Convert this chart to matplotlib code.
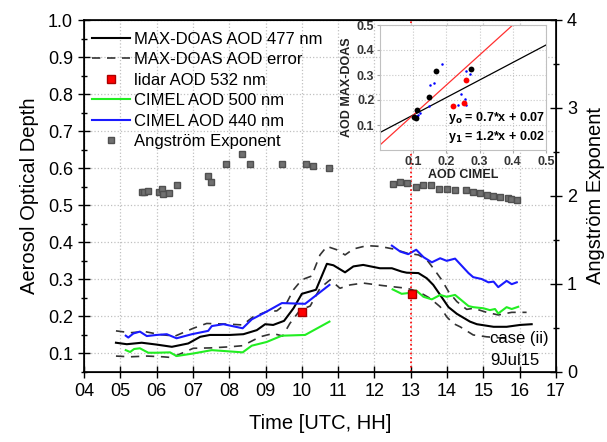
import numpy as np
import matplotlib.pyplot as plt
from matplotlib.lines import Line2D
from matplotlib.ticker import MultipleLocator, FormatStrFormatter

plt.rcParams['font.family'] = ['Liberation Sans', 'DejaVu Sans']

# MAX-DOAS AOD 477 nm
doas_t = [4.88, 5.18, 5.59, 6.00, 6.42, 6.87, 7.20, 7.47, 8.02, 8.39, 8.76, 8.99, 9.21, 9.51,
          9.77, 10.00, 10.39, 10.69, 10.87, 11.19, 11.42, 11.69, 12.15, 12.48, 12.75, 12.89,
          13.21, 13.44, 13.62, 13.81, 14.04, 14.27, 14.63, 14.82, 15.28, 15.64, 16.01, 16.33]
doas_aod = [0.129, 0.125, 0.129, 0.124, 0.118, 0.127, 0.145, 0.150, 0.150, 0.152, 0.163, 0.179,
            0.177, 0.188, 0.222, 0.261, 0.272, 0.342, 0.338, 0.319, 0.335, 0.339, 0.330, 0.330,
            0.321, 0.318, 0.317, 0.303, 0.285, 0.258, 0.225, 0.207, 0.186, 0.179, 0.172, 0.172,
            0.177, 0.179]

# MAX-DOAS error envelope
err_hi_t = [4.88, 5.27, 5.68, 6.09, 6.51, 7.01, 7.38, 8.02, 8.37, 8.66, 9.03, 9.31, 9.58, 9.77,
            10.00, 10.27, 10.50, 10.69, 10.96, 11.19, 11.42, 11.79, 12.15, 12.52, 12.89, 13.21,
            13.44, 13.62, 13.85, 14.04, 14.27, 14.54, 14.73, 15.09, 15.41, 15.78, 16.19]
err_hi = [0.161, 0.156, 0.159, 0.151, 0.147, 0.168, 0.181, 0.179, 0.177, 0.199, 0.213, 0.215,
          0.236, 0.272, 0.299, 0.309, 0.366, 0.389, 0.380, 0.366, 0.382, 0.391, 0.389, 0.382,
          0.371, 0.366, 0.353, 0.330, 0.299, 0.267, 0.240, 0.219, 0.222, 0.211, 0.204, 0.211,
          0.211]
err_lo_t = [4.88, 5.27, 5.73, 6.18, 6.42, 7.01, 7.47, 8.02, 8.37, 8.85, 9.21, 9.47, 9.67, 9.95,
            10.23, 10.50, 10.78, 11.05, 11.33, 11.69, 12.25, 12.52, 12.89, 13.21, 13.53, 13.81,
            13.99, 14.17, 14.36, 14.72, 15.09, 15.60]
err_lo = [0.093, 0.091, 0.093, 0.091, 0.089, 0.114, 0.115, 0.118, 0.121, 0.145, 0.154, 0.147,
          0.181, 0.217, 0.228, 0.276, 0.299, 0.276, 0.285, 0.290, 0.283, 0.280, 0.276, 0.267,
          0.249, 0.226, 0.199, 0.181, 0.172, 0.150, 0.145, 0.141]

# lidar AOD 532 nm
lidar_t = [10.01, 13.03]
lidar_aod = [0.213, 0.261]

# CIMEL AOD 500 nm (morning / afternoon)
c500_t1 = [5.15, 5.27, 5.38, 5.54, 5.77, 6.00, 6.37, 6.55, 7.01, 7.52, 8.37, 8.62, 9.03, 9.45,
           10.09, 10.76]
c500_a1 = [0.109, 0.104, 0.112, 0.114, 0.102, 0.102, 0.103, 0.093, 0.100, 0.109, 0.103, 0.121,
           0.131, 0.148, 0.150, 0.186]
c500_t2 = [12.50, 12.75, 12.93, 13.15, 13.35, 13.58, 13.81, 13.99, 14.22, 14.59, 14.72, 15.00,
           15.18, 15.32, 15.41, 15.64, 15.78, 15.96]
c500_a2 = [0.273, 0.261, 0.263, 0.270, 0.253, 0.246, 0.258, 0.253, 0.258, 0.228, 0.225, 0.222,
           0.217, 0.220, 0.208, 0.225, 0.220, 0.226]

# CIMEL AOD 440 nm
c440_t1 = [5.15, 5.22, 5.36, 5.54, 5.73, 6.00, 6.28, 6.55, 6.97, 7.42, 7.52, 7.84, 8.37, 8.62,
           9.03, 9.45, 10.09, 10.76]
c440_a1 = [0.148, 0.143, 0.154, 0.159, 0.147, 0.150, 0.152, 0.141, 0.152, 0.161, 0.174, 0.179,
           0.168, 0.192, 0.213, 0.236, 0.234, 0.285]
c440_t2 = [12.48, 12.71, 12.93, 13.15, 13.35, 13.58, 13.81, 13.99, 14.22, 14.59, 14.72, 14.95,
           15.14, 15.28, 15.41, 15.64, 15.78, 15.92]
c440_a2 = [0.391, 0.375, 0.368, 0.380, 0.360, 0.346, 0.357, 0.350, 0.356, 0.317, 0.306, 0.301,
           0.292, 0.294, 0.279, 0.296, 0.287, 0.292]

# Angstrom exponent
ang_t = [5.59, 5.65, 5.75, 6.07, 6.14, 6.17, 6.34, 6.55, 7.42, 7.49, 7.92, 8.35, 8.58, 9.44,
         10.11, 10.32, 10.74, 12.50, 12.69, 12.89, 13.14, 13.35, 13.56, 13.79, 13.99, 14.22,
         14.52, 14.72, 14.91, 15.09, 15.27, 15.45, 15.67, 15.75, 15.92]
ang_val = [2.04, 2.05, 2.06, 2.04, 2.08, 2.02, 2.03, 2.12, 2.23, 2.16, 2.36, 2.48, 2.36, 2.36,
           2.36, 2.34, 2.32, 2.14, 2.16, 2.15, 2.10, 2.12, 2.13, 2.08, 2.08, 2.07, 2.07, 2.04,
           2.03, 2.01, 2.00, 1.99, 1.98, 1.97, 1.96]

# inset scatter: AOD CIMEL vs AOD MAX-DOAS
sc_black_x = [0.168, 0.274, 0.148, 0.112, 0.108, 0.103]
sc_black_y = [0.317, 0.323, 0.212, 0.160, 0.127, 0.133]
sc_red_x = [0.260, 0.221, 0.254]
sc_red_y = [0.279, 0.176, 0.190]
sc_blue_x = [0.186, 0.164, 0.151, 0.259, 0.271, 0.244, 0.257, 0.259, 0.236, 0.148, 0.120,
             0.115, 0.100, 0.105, 0.110]
sc_blue_y = [0.343, 0.269, 0.260, 0.316, 0.303, 0.224, 0.204, 0.179, 0.179, 0.176, 0.147,
             0.140, 0.132, 0.128, 0.138]
fit0 = (0.7, 0.07)
fit1 = (1.2, 0.02)

hours = list(range(4, 18))
hour_labels = ['%02d' % h for h in hours]

fig = plt.figure(figsize=(6.07, 4.42), dpi=100)
ax = fig.add_axes([84 / 607, 1 - 372 / 442, 472 / 607, 352 / 442])

ax.plot(doas_t, doas_aod, '-', color='black', lw=1.5)
ax.plot(err_hi_t, err_hi, '--', color='#333333', lw=1.2, dashes=(5, 4))
ax.plot(err_lo_t, err_lo, '--', color='#333333', lw=1.2, dashes=(5, 4))
ax.plot(c500_t1, c500_a1, '-', color='#22ee22', lw=1.5)
ax.plot(c500_t2, c500_a2, '-', color='#22ee22', lw=1.5)
ax.plot(c440_t1, c440_a1, '-', color='#1a1aff', lw=1.5)
ax.plot(c440_t2, c440_a2, '-', color='#1a1aff', lw=1.5)
ax.plot(lidar_t, lidar_aod, 's', color='red', mec='#aa0000', ms=5.5, zorder=5)
ax.axvline(13, color='red', linestyle=':', lw=1.2)

ax.set_xlim(4, 17)
ax.set_ylim(0.05, 1.0)
ax.set_xticks(hours)
ax.set_xticklabels(hour_labels)
ax.yaxis.set_major_locator(MultipleLocator(0.1))
ax.yaxis.set_minor_locator(MultipleLocator(0.05))
ax.yaxis.set_major_formatter(FormatStrFormatter('%.1f'))
ax.grid(True, which='major', linestyle=':', color='#c0c0c0', lw=0.9)
ax.tick_params(which='major', direction='inout', length=9, width=1, labelsize=13)
ax.tick_params(which='minor', direction='inout', length=5, width=1)
ax.set_xlabel('Time [UTC, HH]', fontsize=14.5, labelpad=10)
ax.set_ylabel('Aerosol Optical Depth', fontsize=14.5, labelpad=6)
for s in ax.spines.values():
    s.set_linewidth(1.2)

ax2 = ax.twinx()
ax2.plot(ang_t, ang_val, 's', color='#707070', mec='#505050', ms=4.8)
ax2.set_ylim(0, 4)
ax2.yaxis.set_major_locator(MultipleLocator(1))
ax2.yaxis.set_minor_locator(MultipleLocator(0.5))
ax2.tick_params(which='major', direction='inout', length=9, width=1, labelsize=13)
ax2.tick_params(which='minor', direction='inout', length=5, width=1)
ax2.set_ylabel('Angström Exponent', fontsize=14.5, labelpad=6)
ax2.text(15.18, 0.141, 'case (ii)', transform=ax.transData, fontsize=12, va='center')
ax2.text(15.18, 0.082, '9Jul15', transform=ax.transData, fontsize=12, va='center')

handles = [
    Line2D([], [], color='black', lw=1.5),
    Line2D([], [], color='#333333', lw=1.2, linestyle='--', dashes=(5, 4)),
    Line2D([], [], color='red', mec='#aa0000', marker='s', linestyle='none', ms=5.5),
    Line2D([], [], color='#22ee22', lw=1.5),
    Line2D([], [], color='#1a1aff', lw=1.5),
    Line2D([], [], color='#707070', mec='#505050', marker='s', linestyle='none', ms=4.8),
]
labels = ['MAX-DOAS AOD 477 nm', 'MAX-DOAS AOD error', 'lidar AOD 532 nm',
          'CIMEL AOD 500 nm', 'CIMEL AOD 440 nm', 'Angström Exponent']
ax2.legend(handles, labels, loc='upper left', bbox_to_anchor=(-0.008, 1.0), frameon=False,
           fontsize=12, handlelength=2.3, handletextpad=0.25, labelspacing=0.33,
           borderaxespad=0.3)

# inset
ins = fig.add_axes([380 / 607, 1 - 150 / 442, 166 / 607, 125 / 442])
ins.set_zorder(5)
ins.set_facecolor('white')
xx = np.array([0.0, 0.5])
ins.plot(xx, fit0[0] * xx + fit0[1], color='black', lw=0.9)
ins.plot(xx, fit1[0] * xx + fit1[1], color='#ff3030', lw=0.9)
ins.plot(sc_blue_x, sc_blue_y, 'o', color='blue', ms=1.8, mew=0)
ins.plot(sc_black_x, sc_black_y, 'o', color='black', ms=4.2, mew=0)
ins.plot(sc_red_x, sc_red_y, 'o', color='red', ms=4.2, mew=0)
ins.set_xlim(0, 0.5)
ins.set_ylim(0, 0.5)
ins.set_xticks([0.1, 0.2, 0.3, 0.4, 0.5])
ins.set_yticks([0.1, 0.2, 0.3, 0.4, 0.5])
ins.grid(True, linestyle=':', color='#c8c8c8', lw=0.8)
ins.tick_params(length=2, color='#aaaaaa', labelsize=9, labelcolor='#333333', pad=2)
for t in ins.get_xticklabels() + ins.get_yticklabels():
    t.set_fontweight('bold')
for s in ins.spines.values():
    s.set_color('#c0c0c0')
ins.set_xlabel('AOD CIMEL', fontsize=9, fontweight='bold', color='#222222', labelpad=1)
ins.set_ylabel('AOD MAX-DOAS', fontsize=9, fontweight='bold', color='#222222', labelpad=3)
ins.text(0.205, 0.128, r'y$_\mathbf{o}$ = 0.7*x + 0.07', fontsize=9, fontweight='bold',
         va='center')
ins.text(0.205, 0.052, r'y$_\mathbf{1}$ = 1.2*x + 0.02', fontsize=9, fontweight='bold',
         va='center')

fig.savefig('out.png', dpi=100)
